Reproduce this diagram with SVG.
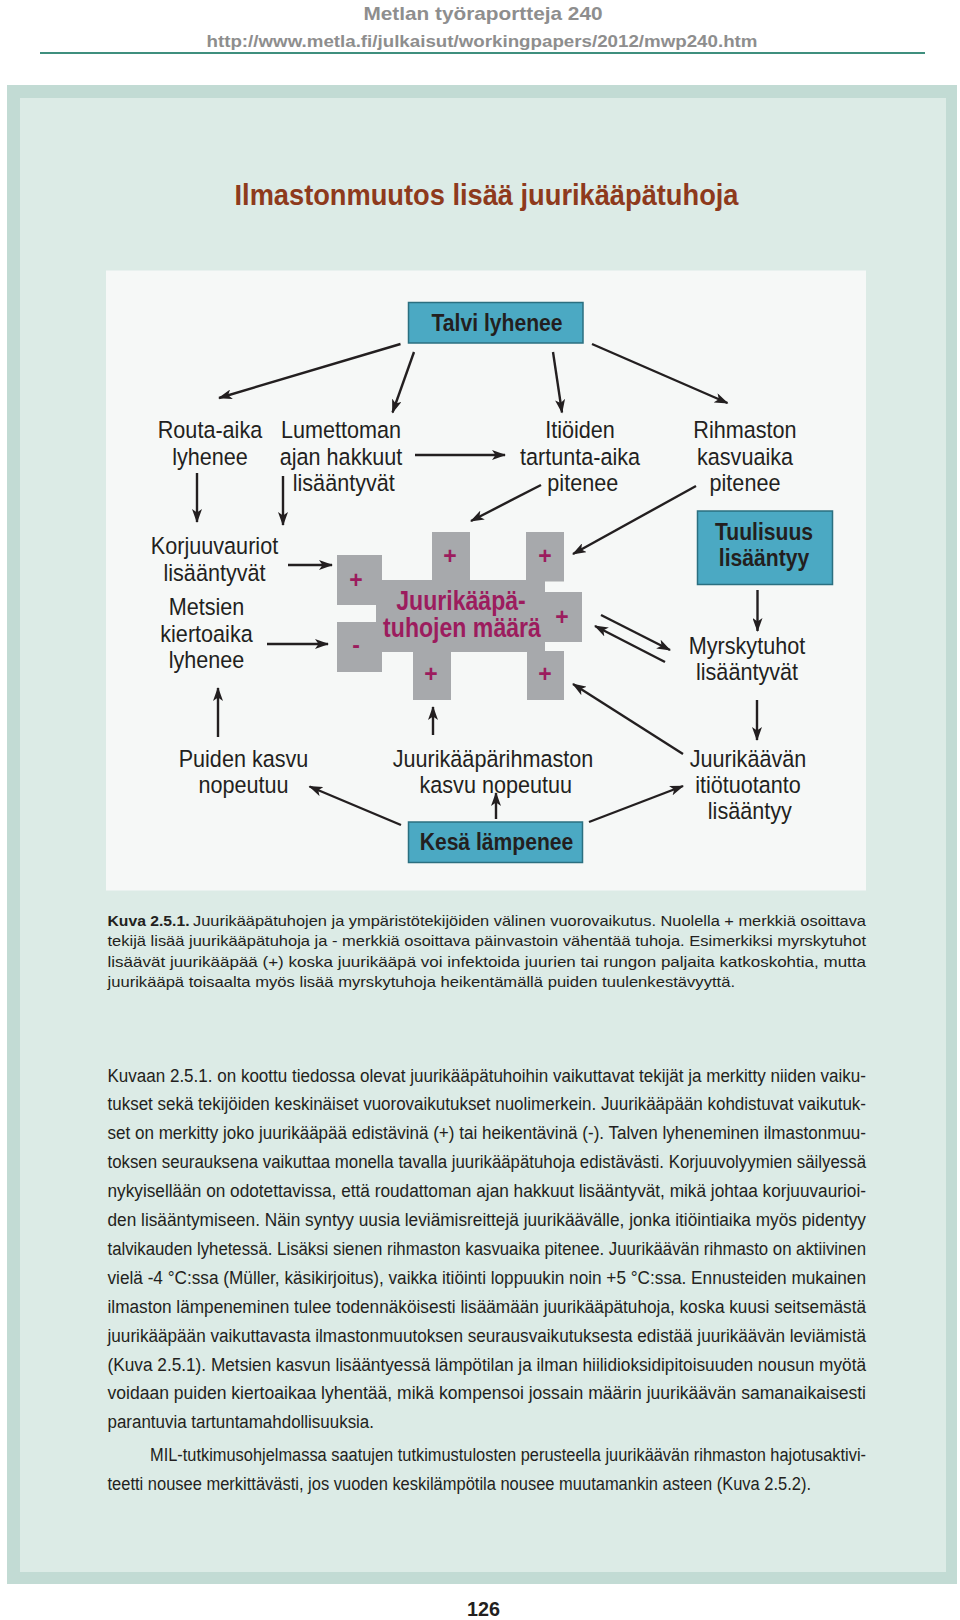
<svg xmlns="http://www.w3.org/2000/svg" width="960" height="1620" viewBox="0 0 960 1620">
<defs>
<marker id="ah" markerUnits="userSpaceOnUse" markerWidth="15" markerHeight="10" refX="13" refY="5" orient="auto"><path d="M0,0 L14,5 L0,10 L3.5,5 Z" fill="#231f20"/></marker>
<style>
.hdr{font-family:"Liberation Sans",Arial,sans-serif;font-weight:bold;fill:#8e8e8e;text-anchor:middle}
.lbl{font-family:"Liberation Sans",Arial,sans-serif;font-size:23.5px;fill:#231f20;text-anchor:middle}
.blbl{font-family:"Liberation Sans",Arial,sans-serif;font-size:24px;font-weight:bold;fill:#231f20;text-anchor:middle}
.box{fill:#4ba9c3;stroke:#2b6f80;stroke-width:1.5}
.sign{font-family:"Liberation Sans",Arial,sans-serif;font-size:23px;font-weight:bold;fill:#9c1c5e;text-anchor:middle}
.ctext{font-family:"Liberation Sans",Arial,sans-serif;font-size:27.5px;font-weight:bold;fill:#9c1c5e;text-anchor:middle}
.cross{fill:#a7a9ac}
.conn line{stroke:#231f20;stroke-width:2.4;marker-end:url(#ah)}
.body{font-family:"Liberation Sans",Arial,sans-serif;font-size:18px;fill:#231f20}
.cap{font-family:"Liberation Sans",Arial,sans-serif;font-size:15px;fill:#231f20}
</style>
</defs>
<rect x="0" y="0" width="960" height="1620" fill="#ffffff"/>
<g id="header">
<text class="hdr" x="483" y="20" font-size="19" textLength="239" lengthAdjust="spacingAndGlyphs">Metlan työraportteja 240</text>
<text class="hdr" x="482" y="46.5" font-size="16.5" textLength="551" lengthAdjust="spacingAndGlyphs">http://www.metla.fi/julkaisut/workingpapers/2012/mwp240.htm</text>
<line x1="40" y1="53" x2="925" y2="53" stroke="#3f8f7e" stroke-width="2"/>
</g>
<rect x="7" y="85" width="950" height="1499" fill="#c2dbd4"/>
<rect x="20" y="98" width="926" height="1474" fill="#dcebe6"/>
<text x="486.5" y="205" font-family="Liberation Sans, Arial, sans-serif" font-size="30" font-weight="bold" fill="#8e3a1c" text-anchor="middle" textLength="504" lengthAdjust="spacingAndGlyphs">Ilmastonmuutos lisää juurikääpätuhoja</text>
<rect x="106" y="270.5" width="760" height="620" fill="#f6f8f7"/>

<g id="connectors" class="conn">
<line x1="400.5" y1="344" x2="219" y2="398"/>
<line x1="414" y1="352" x2="392.5" y2="412.5"/>
<line x1="553" y1="352" x2="562" y2="412.5"/>
<line x1="592" y1="344" x2="727.5" y2="403"/>
<line x1="415" y1="455" x2="505" y2="455"/>
<line x1="541" y1="485" x2="471" y2="521"/>
<line x1="696" y1="486" x2="573" y2="554"/>
<line x1="197" y1="473" x2="197" y2="522"/>
<line x1="283" y1="476" x2="283" y2="525"/>
<line x1="288" y1="565" x2="332" y2="565"/>
<line x1="267" y1="644" x2="328" y2="644"/>
<line x1="757.5" y1="590" x2="757.5" y2="631"/>
<line x1="601" y1="615" x2="670" y2="650"/>
<line x1="665" y1="662" x2="595" y2="626"/>
<line x1="757" y1="700" x2="757" y2="740"/>
<line x1="683" y1="754" x2="573" y2="684"/>
<line x1="589" y1="822" x2="683" y2="786"/>
<line x1="496" y1="819" x2="496" y2="793"/>
<line x1="433" y1="735" x2="433" y2="707"/>
<line x1="401" y1="825" x2="309.5" y2="786.5"/>
<line x1="218" y1="737" x2="218" y2="688"/>
</g>

<g id="talvi">
<rect class="box" x="408.5" y="302.5" width="174.5" height="40.5"/>
<text class="blbl" transform="translate(497 0) scale(0.88 1)" x="0" y="331">Talvi lyhenee</text>
</g>
<g id="routa">
<text class="lbl" transform="translate(210 0) scale(0.92 1)"><tspan x="0" y="438.5">Routa-aika</tspan><tspan x="0" y="465">lyhenee</tspan></text>
</g>
<g id="lumettoman">
<text class="lbl" transform="translate(341 0) scale(0.92 1)"><tspan x="0" y="438.5">Lumettoman</tspan><tspan x="0" y="465">ajan hakkuut</tspan><tspan x="3" y="491.5">lisääntyvät</tspan></text>
</g>
<g id="itioiden">
<text class="lbl" transform="translate(580 0) scale(0.92 1)"><tspan x="0" y="438.5">Itiöiden</tspan><tspan x="0" y="465">tartunta-aika</tspan><tspan x="3" y="491.5">pitenee</tspan></text>
</g>
<g id="rihmaston">
<text class="lbl" transform="translate(745 0) scale(0.92 1)"><tspan x="0" y="438.5">Rihmaston</tspan><tspan x="0" y="465">kasvuaika</tspan><tspan x="0" y="491.5">pitenee</tspan></text>
</g>
<g id="korjuu">
<text class="lbl" transform="translate(214.5 0) scale(0.92 1)"><tspan x="0" y="554">Korjuuvauriot</tspan><tspan x="0" y="581">lisääntyvät</tspan></text>
</g>
<g id="metsien">
<text class="lbl" transform="translate(206.5 0) scale(0.92 1)"><tspan x="0" y="615.5">Metsien</tspan><tspan x="0" y="642">kiertoaika</tspan><tspan x="0" y="668.5">lyhenee</tspan></text>
</g>
<g id="juurikaapa">
<rect class="cross" x="337" y="555" width="45" height="50"/>
<rect class="cross" x="337" y="622" width="45" height="50"/>
<rect class="cross" x="376" y="580" width="169" height="72"/>
<rect class="cross" x="432" y="532" width="38" height="50"/>
<rect class="cross" x="526" y="532" width="38" height="49.5"/>
<rect class="cross" x="540" y="592" width="42" height="50"/>
<rect class="cross" x="413" y="651" width="38" height="49"/>
<rect class="cross" x="527" y="651" width="37" height="49"/>
<text class="sign" x="356" y="588">+</text>
<text class="sign" x="356" y="653">-</text>
<text class="sign" x="450" y="564">+</text>
<text class="sign" x="545" y="564">+</text>
<text class="sign" x="562" y="625">+</text>
<text class="sign" x="431" y="682">+</text>
<text class="sign" x="545" y="682">+</text>
<text class="ctext" transform="translate(461 0) scale(0.84 1)" x="0" y="610.5">Juurikääpä-</text>
<text class="ctext" transform="translate(462 0) scale(0.84 1)" x="0" y="637.5">tuhojen määrä</text>
</g>
<g id="tuulisuus">
<rect class="box" x="697.5" y="511" width="135" height="73.5"/>
<text class="blbl" transform="translate(764 0) scale(0.88 1)"><tspan x="0" y="540">Tuulisuus</tspan><tspan x="0" y="566">lisääntyy</tspan></text>
</g>
<g id="myrskytuhot">
<text class="lbl" transform="translate(747 0) scale(0.92 1)"><tspan x="0" y="654">Myrskytuhot</tspan><tspan x="0" y="680">lisääntyvät</tspan></text>
</g>
<g id="puiden">
<text class="lbl" transform="translate(243.5 0) scale(0.92 1)"><tspan x="0" y="767">Puiden kasvu</tspan><tspan x="0" y="793">nopeutuu</tspan></text>
</g>
<g id="rihmastonkasvu">
<text class="lbl" transform="translate(493 0) scale(0.92 1)"><tspan x="0" y="767">Juurikääpärihmaston</tspan><tspan x="3" y="793">kasvu nopeutuu</tspan></text>
</g>
<g id="itiotuotanto">
<text class="lbl" transform="translate(748 0) scale(0.92 1)"><tspan x="0" y="767">Juurikäävän</tspan><tspan x="0" y="793">itiötuotanto</tspan><tspan x="2" y="819">lisääntyy</tspan></text>
</g>
<g id="kesa">
<rect class="box" x="408.5" y="822" width="174" height="40.5"/>
<text class="blbl" transform="translate(496.5 0) scale(0.88 1)" x="0" y="850">Kesä lämpenee</text>
</g>

<g id="caption">
<text class="cap" x="107.5" y="925.5" font-weight="bold" textLength="82" lengthAdjust="spacingAndGlyphs">Kuva 2.5.1.</text>
<text class="cap" x="193" y="925.5" textLength="673" lengthAdjust="spacingAndGlyphs">Juurikääpätuhojen ja ympäristötekijöiden välinen vuorovaikutus. Nuolella + merkkiä osoittava</text>
<text class="cap" x="107.5" y="946" textLength="758.5" lengthAdjust="spacingAndGlyphs">tekijä lisää juurikääpätuhoja ja - merkkiä osoittava päinvastoin vähentää tuhoja. Esimerkiksi myrskytuhot</text>
<text class="cap" x="107.5" y="966.5" textLength="758.5" lengthAdjust="spacingAndGlyphs">lisäävät juurikääpää (+) koska juurikääpä voi infektoida juurien tai rungon paljaita katkoskohtia, mutta</text>
<text class="cap" x="107.5" y="987" textLength="627.5" lengthAdjust="spacingAndGlyphs">juurikääpä toisaalta myös lisää myrskytuhoja heikentämällä puiden tuulenkestävyyttä.</text>
</g>

<g id="bodytext" class="body">
<text x="107.5" y="1081.5" textLength="758.5" lengthAdjust="spacingAndGlyphs">Kuvaan 2.5.1. on koottu tiedossa olevat juurikääpätuhoihin vaikuttavat tekijät ja merkitty niiden vaiku-</text>
<text x="107.5" y="1110.4" textLength="758.5" lengthAdjust="spacingAndGlyphs">tukset sekä tekijöiden keskinäiset vuorovaikutukset nuolimerkein. Juurikääpään kohdistuvat vaikutuk-</text>
<text x="107.5" y="1139.3" textLength="758.5" lengthAdjust="spacingAndGlyphs">set on merkitty joko juurikääpää edistävinä (+) tai heikentävinä (-). Talven lyheneminen ilmastonmuu-</text>
<text x="107.5" y="1168.2" textLength="758.5" lengthAdjust="spacingAndGlyphs">toksen seurauksena vaikuttaa monella tavalla juurikääpätuhoja edistävästi. Korjuuvolyymien säilyessä</text>
<text x="107.5" y="1197.1" textLength="758.5" lengthAdjust="spacingAndGlyphs">nykyisellään on odotettavissa, että roudattoman ajan hakkuut lisääntyvät, mikä johtaa korjuuvaurioi-</text>
<text x="107.5" y="1226" textLength="758.5" lengthAdjust="spacingAndGlyphs">den lisääntymiseen. Näin syntyy uusia leviämisreittejä juurikäävälle, jonka itiöintiaika myös pidentyy</text>
<text x="107.5" y="1254.9" textLength="758.5" lengthAdjust="spacingAndGlyphs">talvikauden lyhetessä. Lisäksi sienen rihmaston kasvuaika pitenee. Juurikäävän rihmasto on aktiivinen</text>
<text x="107.5" y="1283.8" textLength="758.5" lengthAdjust="spacingAndGlyphs">vielä -4 °C:ssa (Müller, käsikirjoitus), vaikka itiöinti loppuukin noin +5 °C:ssa. Ennusteiden mukainen</text>
<text x="107.5" y="1312.7" textLength="758.5" lengthAdjust="spacingAndGlyphs">ilmaston lämpeneminen tulee todennäköisesti lisäämään juurikääpätuhoja, koska kuusi seitsemästä</text>
<text x="107.5" y="1341.6" textLength="758.5" lengthAdjust="spacingAndGlyphs">juurikääpään vaikuttavasta ilmastonmuutoksen seurausvaikutuksesta edistää juurikäävän leviämistä</text>
<text x="107.5" y="1370.5" textLength="758.5" lengthAdjust="spacingAndGlyphs">(Kuva 2.5.1). Metsien kasvun lisääntyessä lämpötilan ja ilman hiilidioksidipitoisuuden nousun myötä</text>
<text x="107.5" y="1399.4" textLength="758.5" lengthAdjust="spacingAndGlyphs">voidaan puiden kiertoaikaa lyhentää, mikä kompensoi jossain määrin juurikäävän samanaikaisesti</text>
<text x="107.5" y="1428.3" textLength="266.5" lengthAdjust="spacingAndGlyphs">parantuvia tartuntamahdollisuuksia.</text>
<text x="150" y="1461" textLength="716" lengthAdjust="spacingAndGlyphs">MIL-tutkimusohjelmassa saatujen tutkimustulosten perusteella juurikäävän rihmaston hajotusaktivi-</text>
<text x="107.5" y="1490" textLength="703.5" lengthAdjust="spacingAndGlyphs">teetti nousee merkittävästi, jos vuoden keskilämpötila nousee muutamankin asteen (Kuva 2.5.2).</text>
</g>
<text x="483.5" y="1616" font-family="Liberation Sans, Arial, sans-serif" font-size="20" font-weight="bold" fill="#231f20" text-anchor="middle" textLength="33" lengthAdjust="spacingAndGlyphs">126</text>
</svg>
